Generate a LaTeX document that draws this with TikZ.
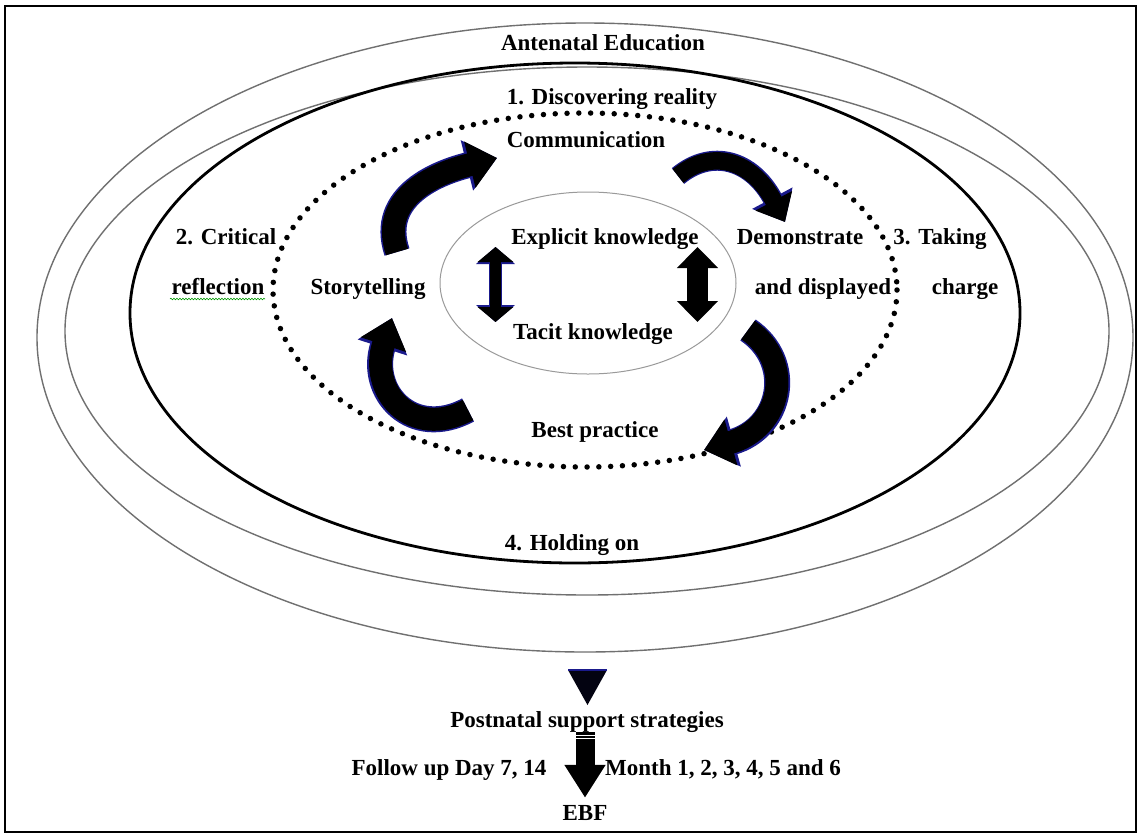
\documentclass[tikz,border=0pt]{standalone}
\usepackage{fontspec}
\setmainfont{Liberation Serif}
\usetikzlibrary{arrows.meta,decorations.pathmorphing}
\definecolor{edgeblue}{HTML}{1A1A8C}
\definecolor{ringgray}{HTML}{707070}
\definecolor{innergray}{HTML}{9A9A9A}
\begin{document}
\begin{tikzpicture}[x=1pt,y=-1pt,
  lbl/.style={font=\fontsize{23}{26}\selectfont\bfseries, anchor=base, inner sep=0pt},
  ring/.style={draw=ringgray, line width=1.4pt},
  dotring/.style={draw=black, line width=5.5pt, line cap=round, dash pattern=on 0pt off 11.8pt},
  arrowedge/.style={draw=edgeblue},
  arrowfill/.style={draw=black}]
\useasboundingbox (0,0) rectangle (1140,836);
\fill[white] (0,0) rectangle (1140,836);
\draw[line width=1.5pt] (5,6) rectangle (1136,832);

% rings
\draw[ring] (585,337.5) ellipse [x radius=548, y radius=314.5];
\draw[ring] (587,331) ellipse [x radius=522, y radius=264];
\draw[line width=2.8pt] (575,313) ellipse [x radius=445, y radius=250];
\draw[dotring] (585,290) ellipse [x radius=312, y radius=177];
\draw[draw=innergray, line width=1pt] (588,283) ellipse [x radius=148, y radius=91];

% labels
\node[lbl] (ant) at (603,50) {Antenatal Education};
\node[lbl] (disc) at (612,104) {1. Discovering reality};
\node[lbl] (comm) at (586,147) {Communication};
\node[lbl] (crit) at (226,244) {2. Critical};
\node[lbl] (refl) at (218,294) {reflection};
\node[lbl] (story) at (368,294) {Storytelling};
\node[lbl] (expl) at (605,244) {Explicit knowledge};
\node[lbl] (tacit) at (593,339) {Tacit knowledge};
\node[lbl] (demo) at (800,244) {Demonstrate};
\node[lbl] (disp) at (823,294) {and displayed};
\node[lbl] (take) at (940,244) {3. Taking};
\node[lbl] (charge) at (965,294) {charge};
\node[lbl] (best) at (595,437) {Best practice};
\node[lbl] (hold) at (572,550) {4. Holding on};
\node[lbl] (post) at (587,727) {Postnatal support strategies};
\node[lbl] (follow) at (449,775) {Follow up Day 7, 14};
\node[lbl] (month) at (723,775) {Month 1, 2, 3, 4, 5 and 6};
\node[lbl] (ebf) at (585,820) {EBF};

% spell-check underline
\draw[green!60!black, line width=0.6pt, decorate, decoration={snake, amplitude=0.8pt, segment length=3pt}] (170,299) -- (265,299);

% curved arrows (cycle)
\draw[arrowedge, line width=26pt, -{Triangle[width=50pt,length=31pt]}] (397,252) .. controls (378,195) and (440,172) .. (497,158);
\draw[arrowfill, line width=23pt, -{Triangle[width=46pt,length=28pt]}] (397,252) .. controls (378,195) and (440,172) .. (497,158);
\draw[arrowedge, line width=20pt, -{Triangle[width=44pt,length=27pt]}] (678,176) .. controls (712,148) and (752,160) .. (785,222);
\draw[arrowfill, line width=17.5pt, -{Triangle[width=40pt,length=24pt]}] (678,176) .. controls (712,148) and (752,160) .. (785,222);
\draw[arrowedge, line width=26pt, -{Triangle[width=50pt,length=31pt]}] (748,330) .. controls (795,362) and (782,428) .. (704,450);
\draw[arrowfill, line width=23pt, -{Triangle[width=46pt,length=28pt]}] (748,330) .. controls (795,362) and (782,428) .. (704,450);
\draw[arrowedge, line width=26pt, -{Triangle[width=50pt,length=31pt]}] (468,410) .. controls (412,440) and (368,392) .. (392,318);
\draw[arrowfill, line width=23pt, -{Triangle[width=46pt,length=28pt]}] (468,410) .. controls (412,440) and (368,392) .. (392,318);

% double arrows between explicit and tacit knowledge
\coordinate (la) at (495.5,247);
\coordinate (lb) at (495.5,322);
\coordinate (ra) at (697.5,247);
\coordinate (rb) at (697.5,322);
\draw[edgeblue, line width=13.5pt, {Triangle[width=38pt,length=17pt]}-{Triangle[width=38pt,length=17pt]}] (la) -- (lb);
\draw[black, line width=11.5pt, {Triangle[width=35pt,length=15pt]}-{Triangle[width=35pt,length=15pt]}] (la) -- (lb);
\draw[black, line width=21pt, {Triangle[width=40pt,length=21pt]}-{Triangle[width=40pt,length=21pt]}] (ra) -- (rb);

% triangle below the rings
\coordinate (t1) at (568,670);
\coordinate (t2) at (607,670);
\coordinate (t3) at (587.5,705);
\fill[black!88!edgeblue] (t1) -- (t2) -- (t3) -- cycle;
\draw[edgeblue, line width=1.3pt] (t1) -- (t2);

% striped block arrow to EBF
\draw[black, line width=19pt, -{Triangle[width=39pt,length=33pt]}, shorten >=7pt] (ebf.north |- post.south) -- (ebf.north);
\draw[white, line width=1pt] (575,735.8) -- (596,735.8);
\draw[white, line width=1pt] (575,738.8) -- (596,738.8);
\end{tikzpicture}
\end{document}
